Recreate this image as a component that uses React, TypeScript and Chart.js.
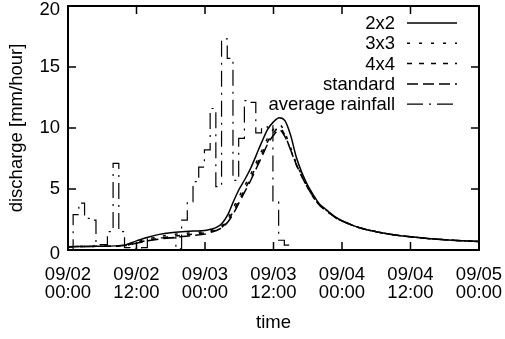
import React, { useEffect, useRef } from 'react';
import { Chart, registerables } from 'chart.js';

Chart.register(...registerables);

const FONT = '"Liberation Sans", Arial, Helvetica, sans-serif';

const xTickDates = ['09/02', '09/02', '09/03', '09/03', '09/04', '09/04', '09/05'];
const xTickTimes = ['00:00', '12:00', '00:00', '12:00', '00:00', '12:00', '00:00'];

const hours = [0, 5, 10, 12, 14, 16, 18, 20, 22, 24, 25, 26, 27, 28, 29, 30, 31, 32, 33, 34, 35, 36, 37, 38, 39, 40, 41, 42, 43, 44, 45, 46, 47, 48, 50, 52, 54, 57, 60, 63, 66, 69, 72];

const q2x2 = [0.27, 0.3, 0.42, 0.75, 1.05, 1.28, 1.42, 1.5, 1.55, 1.6, 1.7, 1.85, 2.2, 2.9, 4.0, 5.0, 5.8, 6.7, 7.8, 8.9, 9.9, 10.5, 10.85, 10.6, 9.4, 7.6, 6.3, 5.3, 4.5, 3.8, 3.4, 3.0, 2.65, 2.4, 2.0, 1.7, 1.5, 1.25, 1.08, 0.95, 0.84, 0.76, 0.7];
const q3x3 = [0.27, 0.3, 0.4, 0.65, 0.9, 1.1, 1.25, 1.35, 1.42, 1.5, 1.6, 1.75, 2.0, 2.6, 3.5, 4.4, 5.3, 6.2, 7.2, 8.2, 9.2, 9.9, 10.3, 9.6, 8.4, 7.1, 6.1, 5.2, 4.4, 3.75, 3.35, 3.0, 2.65, 2.4, 2.0, 1.7, 1.5, 1.25, 1.08, 0.95, 0.84, 0.76, 0.7];
const q4x4 = [0.27, 0.3, 0.38, 0.6, 0.8, 0.95, 1.1, 1.2, 1.3, 1.4, 1.5, 1.65, 1.9, 2.4, 3.2, 4.1, 5.0, 5.9, 6.9, 7.9, 8.9, 9.6, 10.05, 9.4, 8.2, 7.0, 6.0, 5.1, 4.3, 3.7, 3.3, 2.95, 2.6, 2.38, 2.0, 1.7, 1.5, 1.25, 1.08, 0.95, 0.84, 0.76, 0.7];
const qStandard = [0.27, 0.3, 0.36, 0.55, 0.75, 0.9, 1.0, 1.1, 1.2, 1.3, 1.45, 1.6, 1.85, 2.3, 3.0, 3.9, 4.8, 5.7, 6.7, 7.7, 8.7, 9.4, 9.85, 9.3, 8.2, 7.0, 6.0, 5.1, 4.35, 3.7, 3.3, 2.95, 2.6, 2.38, 2.0, 1.7, 1.5, 1.25, 1.08, 0.95, 0.84, 0.76, 0.7];

// hourly average rainfall, first hour begins at 0.9 h
const rainStartHour = 0.9;
const rainfall = [2.9, 3.85, 2.6, 2.45, 0.45, 0.45, 1.5, 7.1, 1.5, 0.2, 0.15, 0.05, 0.2, 1.0, 1.0, 1.0, 1.0, 1.0, 0.1, 2.45, 3.95, 5.6, 6.8, 8.2, 11.6, 5.2, 17.3, 15.7, 5.7, 9.15, 12.25, 12.1, 9.6, 10.0, 10.2, 3.95, 0.8, 0.4, 0];

const seriesLabels = ['2x2', '3x3', '4x4', 'standard', 'average rainfall'];

const pts = (xs: number[], ys: number[]) => xs.map((x, i) => ({ x, y: ys[i] }));
const rainPoints = [{ x: 0, y: 0 }, ...rainfall.map((v, i) => ({ x: i + rainStartHour, y: v }))];

const framePlugin = {
  id: 'gnuFrame',
  afterDatasetsDraw(chart: any) {
    const { ctx, chartArea: a, scales } = chart;
    const x = scales.x;
    const y = scales.y;
    ctx.save();
    ctx.strokeStyle = '#000';
    ctx.setLineDash([]);
    ctx.lineWidth = 1.5;
    ctx.beginPath();
    for (const t of x.ticks) {
      const px = x.getPixelForValue(t.value);
      ctx.moveTo(px, a.bottom);
      ctx.lineTo(px, a.bottom - 8);
      ctx.moveTo(px, a.top);
      ctx.lineTo(px, a.top + 8);
    }
    for (const t of y.ticks) {
      const py = y.getPixelForValue(t.value);
      ctx.moveTo(a.left, py);
      ctx.lineTo(a.left + 8, py);
      ctx.moveTo(a.right, py);
      ctx.lineTo(a.right - 8, py);
    }
    ctx.stroke();
    ctx.lineWidth = 2;
    ctx.strokeRect(a.left, a.top, a.right - a.left, a.bottom - a.top);

    // key
    ctx.font = `18.5px ${FONT}`;
    ctx.fillStyle = '#000';
    ctx.textAlign = 'right';
    ctx.textBaseline = 'middle';
    chart.data.datasets.forEach((ds: any, i: number) => {
      const ry = a.top + 18 + i * 20.3;
      ctx.fillText(ds.label, a.right - 84, ry);
      ctx.beginPath();
      ctx.lineWidth = ds.borderWidth;
      ctx.setLineDash(ds.borderDash || []);
      ctx.moveTo(a.right - 72, ry - 1);
      ctx.lineTo(a.right - 22, ry - 1);
      ctx.stroke();
    });
    ctx.restore();
  },
};

export default function App() {
  const ref = useRef<HTMLCanvasElement>(null);
  useEffect(() => {
    if (!ref.current) return;
    const tickFont = { family: FONT, size: 18.5 };
    const isEdgeTick = (v: number) => v === 0 || v === 20;
    const chart = new Chart(ref.current, {
      type: 'line',
      data: {
        datasets: [
          { label: seriesLabels[0], data: pts(hours, q2x2), borderColor: '#000', borderWidth: 1.5, borderDash: [], cubicInterpolationMode: 'monotone' },
          { label: seriesLabels[1], data: pts(hours, q3x3), borderColor: '#000', borderWidth: 1.5, borderDash: [3, 9], cubicInterpolationMode: 'monotone' },
          { label: seriesLabels[2], data: pts(hours, q4x4), borderColor: '#000', borderWidth: 1.5, borderDash: [5, 7], cubicInterpolationMode: 'monotone' },
          { label: seriesLabels[3], data: pts(hours, qStandard), borderColor: '#000', borderWidth: 1.5, borderDash: [11, 5], cubicInterpolationMode: 'monotone' },
          { label: seriesLabels[4], data: rainPoints, borderColor: '#000', borderWidth: 1.2, borderDash: [16, 6, 2, 6], stepped: true },
        ] as any,
      },
      options: {
        animation: false,
        responsive: true,
        maintainAspectRatio: false,
        layout: { padding: { left: 0, right: 26, top: 6, bottom: 0 } },
        plugins: { legend: { display: false }, tooltip: { enabled: false } },
        elements: { point: { radius: 0 }, line: { tension: 0, fill: false } },
        scales: {
          x: {
            type: 'linear',
            min: 0,
            max: 72,
            grid: { display: false, drawTicks: false },
            border: { display: false },
            ticks: {
              stepSize: 12,
              autoSkip: false,
              maxRotation: 0,
              padding: 16,
              color: '#000',
              font: { ...tickFont, lineHeight: 18 / 18.5 },
              callback: (v: any) => {
                const i = Math.round(Number(v) / 12);
                return [xTickDates[i], xTickTimes[i]];
              },
            },
            title: { display: true, text: 'time', color: '#000', font: tickFont, padding: { top: 0, bottom: 5 } },
            afterFit: (s: any) => { s.height = 89; s.paddingLeft = 0; s.paddingRight = 0; },
          },
          y: {
            type: 'linear',
            min: 0,
            max: 20,
            grid: { display: false, drawTicks: false },
            border: { display: false },
            ticks: {
              stepSize: 5,
              padding: 8,
              color: '#000',
              font: (c: any) => ({ ...tickFont, lineHeight: c.tick && isEdgeTick(c.tick.value) ? 8 / 18.5 : 1.2 }),
              callback: (v: any) => (isEdgeTick(Number(v)) ? ['', String(v)] : String(v)),
            },
            title: { display: true, text: 'discharge [mm/hour]', color: '#000', font: tickFont, padding: { top: 6, bottom: 0 } },
            afterFit: (s: any) => { s.width = 68; s.paddingTop = 0; s.paddingBottom = 0; },
          },
        },
      },
      plugins: [framePlugin],
    });
    return () => chart.destroy();
  }, []);
  return (
    <div style={{ position: 'fixed', left: 0, top: 0, width: 505, height: 339, background: '#fff' }}>
      <canvas ref={ref} />
    </div>
  );
}
